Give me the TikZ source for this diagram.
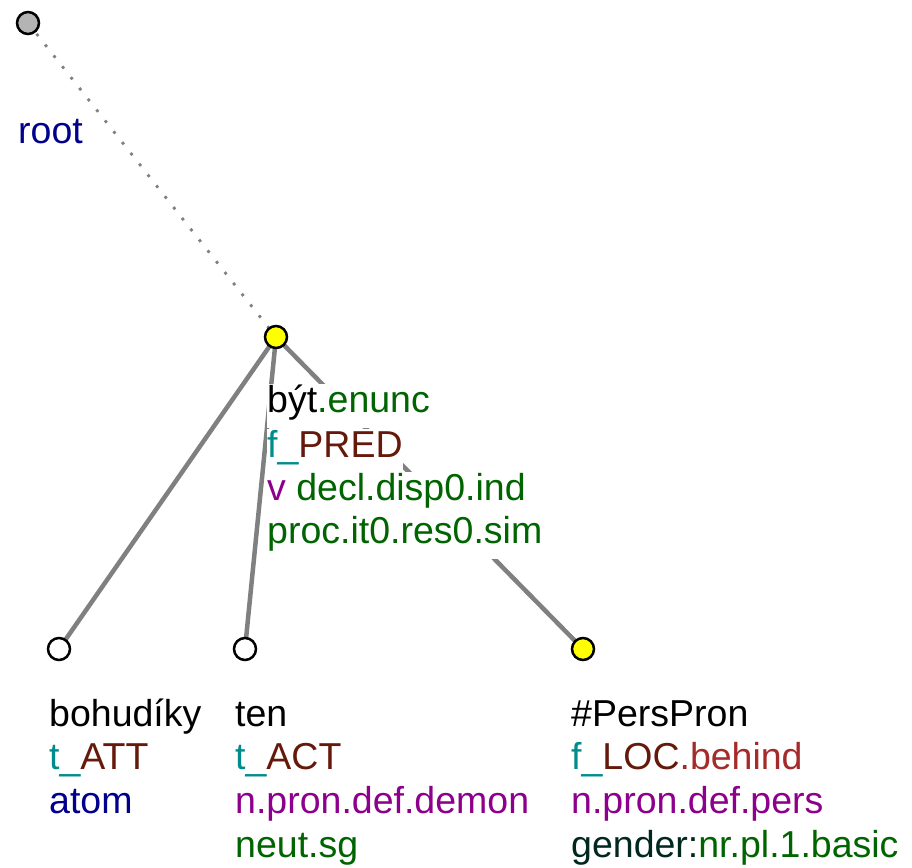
\documentclass[tikz,border=0pt]{standalone}
\usepackage{fontspec}
\setmainfont{Liberation Sans}
\definecolor{cteal}{RGB}{0,140,140}
\definecolor{cfun}{RGB}{100,25,10}
\definecolor{cbeh}{RGB}{165,42,42}
\definecolor{cpurp}{RGB}{140,0,140}
\definecolor{cgreen}{RGB}{0,100,0}
\definecolor{cnavy}{RGB}{0,0,140}
\definecolor{cdark}{RGB}{0,40,30}
\definecolor{cedge}{RGB}{128,128,128}
\definecolor{croot}{RGB}{180,180,180}
\definecolor{cyel}{RGB}{255,255,0}
\pgfdeclarelayer{bg}
\pgfdeclarelayer{lbl}
\pgfsetlayers{bg,lbl,main}
\begin{document}
\begin{tikzpicture}[x=1pt,y=-1pt,
  tnode/.style={circle,draw=black,line width=2.5pt,minimum size=22pt,inner sep=0pt},
  lbltext/.style={anchor=base west,inner sep=0pt,fill=white,text height=28pt,text depth=16pt,font=\fontsize{37.5}{44}\selectfont},
  edgeline/.style={draw=cedge,line width=4.5pt},
  rootedge/.style={draw=cedge,line width=2.8pt,dash pattern=on 2.8pt off 11pt}]
\useasboundingbox (0,0) rectangle (912,867);
% tree nodes
\node[tnode,fill=croot] (nroot) at (28,23) {};
\node[tnode,fill=cyel] (nbyt) at (276,337) {};
\node[tnode,fill=white] (nboh) at (59,649) {};
\node[tnode,fill=white] (nten) at (245,649) {};
\node[tnode,fill=cyel] (npers) at (583,649) {};
% edges
\begin{pgfonlayer}{bg}
\draw[rootedge] (nroot.center) -- (nbyt.center);
\draw[edgeline] (nbyt.center) -- (nboh.center);
\draw[edgeline] (nbyt.center) -- (nten.center);
\draw[edgeline] (nbyt.center) -- (npers.center);
\end{pgfonlayer}
% labels
\begin{pgfonlayer}{lbl}
\node[lbltext,text=cnavy] (lroot) at (18,143) {root};
\node[lbltext] (lbyta) at (267,412) {být\textcolor{cgreen}{.enunc}};
\node[lbltext] (lbytb) at (267,457) {\textcolor{cteal}{f\_}\textcolor{cfun}{PRED}};
\node[lbltext] (lbytc) at (267,500) {\textcolor{cpurp}{v} \textcolor{cgreen}{decl.disp0.ind}};
\node[lbltext,text=cgreen] (lbytd) at (267,543) {proc.it0.res0.sim};
\node[lbltext] (lboha) at (49,726) {bohudíky};
\node[lbltext] (lbohb) at (49,769) {\textcolor{cteal}{t\_}\textcolor{cfun}{ATT}};
\node[lbltext,text=cnavy] (lbohc) at (49,813) {atom};
\node[lbltext] (ltena) at (235,726) {ten};
\node[lbltext] (ltenb) at (235,769) {\textcolor{cteal}{t\_}\textcolor{cfun}{ACT}};
\node[lbltext,text=cpurp] (ltenc) at (235,813) {n.pron.def.demon};
\node[lbltext,text=cgreen] (ltend) at (235,857) {neut.sg};
\node[lbltext] (lpersa) at (571,726) {\#PersPron};
\node[lbltext] (lpersb) at (571,769) {\textcolor{cteal}{f\_}\textcolor{cfun}{LOC}\textcolor{cbeh}{.behind}};
\node[lbltext,text=cpurp] (lpersc) at (571,813) {n.pron.def.pers};
\node[lbltext] (lpersd) at (571,857) {\textcolor{cdark}{gender:}\textcolor{cgreen}{nr.pl.1.basic}};
\end{pgfonlayer}
\end{tikzpicture}
\end{document}
